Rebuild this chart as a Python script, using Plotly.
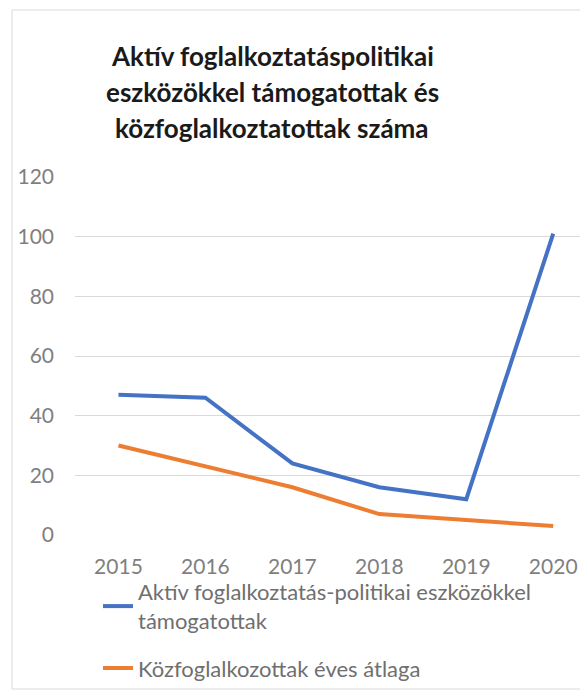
import plotly.graph_objects as go

years = ["2015", "2016", "2017", "2018", "2019", "2020"]
aktiv = [47, 46, 24, 16, 12, 101]
kozfog = [30, 23, 16, 7, 5, 3]
series_names = ["Aktív foglalkoztatás-politikai eszközökkel<br>támogatottak",
                "Közfoglalkozottak éves átlaga"]
title_lines = ["Aktív foglalkoztatáspolitikai",
               "eszközökkel támogatottak és",
               "közfoglalkoztatottak száma"]
y_ticks = [0, 20, 40, 60, 80, 100, 120]

OFF = 8  # page body margin
W, H = 588 - OFF, 693 - OFF
L, R, T, B = 75 - OFF, 0, 177 - OFF, 693 - 535
PW, PH = W - L - R, H - T - B

def px_x(px):  # reference page px -> paper
    return (px - OFF - L) / PW

def px_y(py):
    return (H - B - (py - OFF)) / PH

FONT = "Lato"
fig = go.Figure()
fig.add_trace(go.Scatter(x=years, y=aktiv, mode="lines", name=series_names[0],
                         legendgroup="a", line=dict(color="#4472C4", width=4)))
fig.add_trace(go.Scatter(x=years, y=kozfog, mode="lines", name=series_names[1],
                         legendgroup="b", line=dict(color="#ED7D31", width=4)))

for i, t in enumerate(title_lines):
    fig.add_annotation(text="<b>" + t + "</b>", xref="paper", yref="paper",
                       x=px_x(272), y=px_y(56 + 36 * i), xanchor="center", yanchor="middle",
                       showarrow=False, font=dict(family=FONT, size=26, color="#1a1a1a"))

fig.add_shape(type="rect", xref="paper", yref="paper",
              x0=px_x(12), x1=px_x(620), y0=px_y(689), y1=px_y(10),
              line=dict(color="#d9d9d9", width=1), fillcolor="rgba(0,0,0,0)", layer="above")

fig.update_layout(
    width=W, height=H,
    margin=dict(l=L, r=R, t=T, b=B),
    paper_bgcolor="white", plot_bgcolor="white",
    font=dict(family=FONT, color="#7f7f7f"),
    showlegend=True,
    legend=dict(x=px_x(98), y=px_y(571), xanchor="left", yanchor="top",
                orientation="v", font=dict(family=FONT, size=22, color="#6f6f6f"),
                bgcolor="rgba(0,0,0,0)", tracegroupgap=16),
    xaxis=dict(type="category", range=[-0.5, 5.4], showgrid=False, zeroline=False,
               showline=False, ticks="", tickfont=dict(size=21, color="#7f7f7f"),
               ticklabelstandoff=17),
    yaxis=dict(range=[0, 120], tickvals=y_ticks, showgrid=True, gridcolor="#d9d9d9",
               gridwidth=1, zeroline=False, showline=False, ticks="",
               tickfont=dict(size=21, color="#7f7f7f"), ticklabelstandoff=20),
)

fig.write_html("out.html")
